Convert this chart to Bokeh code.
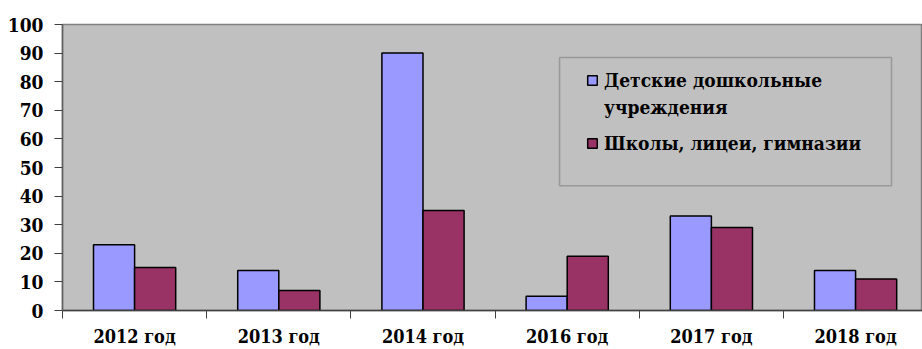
from bokeh.plotting import figure
from bokeh.models import Range1d, FixedTicker, Legend, LegendItem, BoxAnnotation
from bokeh.embed import file_html
from bokeh.resources import INLINE

categories = ["2012 год", "2013 год", "2014 год", "2016 год", "2017 год", "2018 год"]
preschool = [23, 14, 90, 5, 33, 14]
schools = [15, 7, 35, 19, 29, 11]
series_lines = ["Детские дошкольные", "учреждения"]
series2_name = "Школы, лицеи, гимназии"
y_ticks = list(range(0, 101, 10))

BLUE = "#9999FF"
RED = "#993366"
BG = "#C0C0C0"
FONT = "DejaVu Serif Condensed"

n = len(categories)
centers = [i + 0.5 for i in range(n)]
bw = 0.285

p = figure(width=922, height=349, output_backend="svg", toolbar_location=None,
           x_range=Range1d(0, 5.964), y_range=Range1d(0, 100),
           min_border_left=62, min_border_right=0, min_border_top=24, min_border_bottom=38)
p.background_fill_color = BG
p.border_fill_color = "white"
p.outline_line_color = "#808080"
p.outline_line_width = 1.5
p.xgrid.visible = False
p.ygrid.visible = False

r1 = p.vbar(x=[c - bw / 2 for c in centers], top=preschool, width=bw,
            fill_color=BLUE, line_color="black", line_width=1.5)
r2 = p.vbar(x=[c + bw / 2 for c in centers], top=schools, width=bw,
            fill_color=RED, line_color="black", line_width=1.5)
# invisible renderer used only for the second line of the first legend label
r_blank = p.vbar(x=[], top=[], width=bw, fill_alpha=0, line_alpha=0)

# x axis
p.xaxis.ticker = FixedTicker(ticks=centers, minor_ticks=list(range(n + 1)))
p.xaxis.major_label_overrides = {c: lab for c, lab in zip(centers, categories)}
p.xaxis.major_tick_out = 0
p.xaxis.major_tick_in = 0
p.xaxis.minor_tick_out = 8
p.xaxis.minor_tick_in = 0
p.xaxis.minor_tick_line_color = "#404040"
p.xaxis.axis_line_color = "#404040"
p.xaxis.axis_line_width = 1.5
p.xaxis.major_label_standoff = 7
p.xaxis.major_label_text_font = FONT
p.xaxis.major_label_text_font_style = "bold"
p.xaxis.major_label_text_font_size = "18px"
p.xaxis.major_label_text_color = "black"

# y axis
p.yaxis.ticker = FixedTicker(ticks=y_ticks)
p.yaxis.major_tick_out = 8
p.yaxis.major_tick_in = 0
p.yaxis.minor_tick_out = 0
p.yaxis.minor_tick_in = 0
p.yaxis.major_tick_line_color = "#404040"
p.yaxis.axis_line_color = "#606060"
p.yaxis.axis_line_width = 1.5
p.yaxis.major_label_standoff = 11
p.yaxis.major_label_text_font = FONT
p.yaxis.major_label_text_font_style = "bold"
p.yaxis.major_label_text_font_size = "19px"
p.yaxis.major_label_text_color = "black"

# legend frame
box = BoxAnnotation(left=3.447, right=5.749, bottom=43.6, top=88.5,
                    fill_color=BG, fill_alpha=1.0, line_color="#404040", line_width=1.5)
p.add_layout(box)

common = dict(border_line_color=None, background_fill_alpha=0,
              glyph_width=12, glyph_height=12, label_standoff=6, spacing=3,
              padding=0, margin=0, label_height=24,
              label_text_font=FONT, label_text_font_style="bold",
              label_text_font_size="19px", label_text_color="black")

legend_a = Legend(items=[LegendItem(label=series_lines[0], renderers=[r1]),
                         LegendItem(label=series_lines[1], renderers=[r_blank])],
                  location=(524, 191), **common)
legend_b = Legend(items=[LegendItem(label=series2_name, renderers=[r2])],
                  location=(524, 155), **common)
p.add_layout(legend_a)
p.add_layout(legend_b)

open("out.html", "w").write(file_html(p, INLINE))
